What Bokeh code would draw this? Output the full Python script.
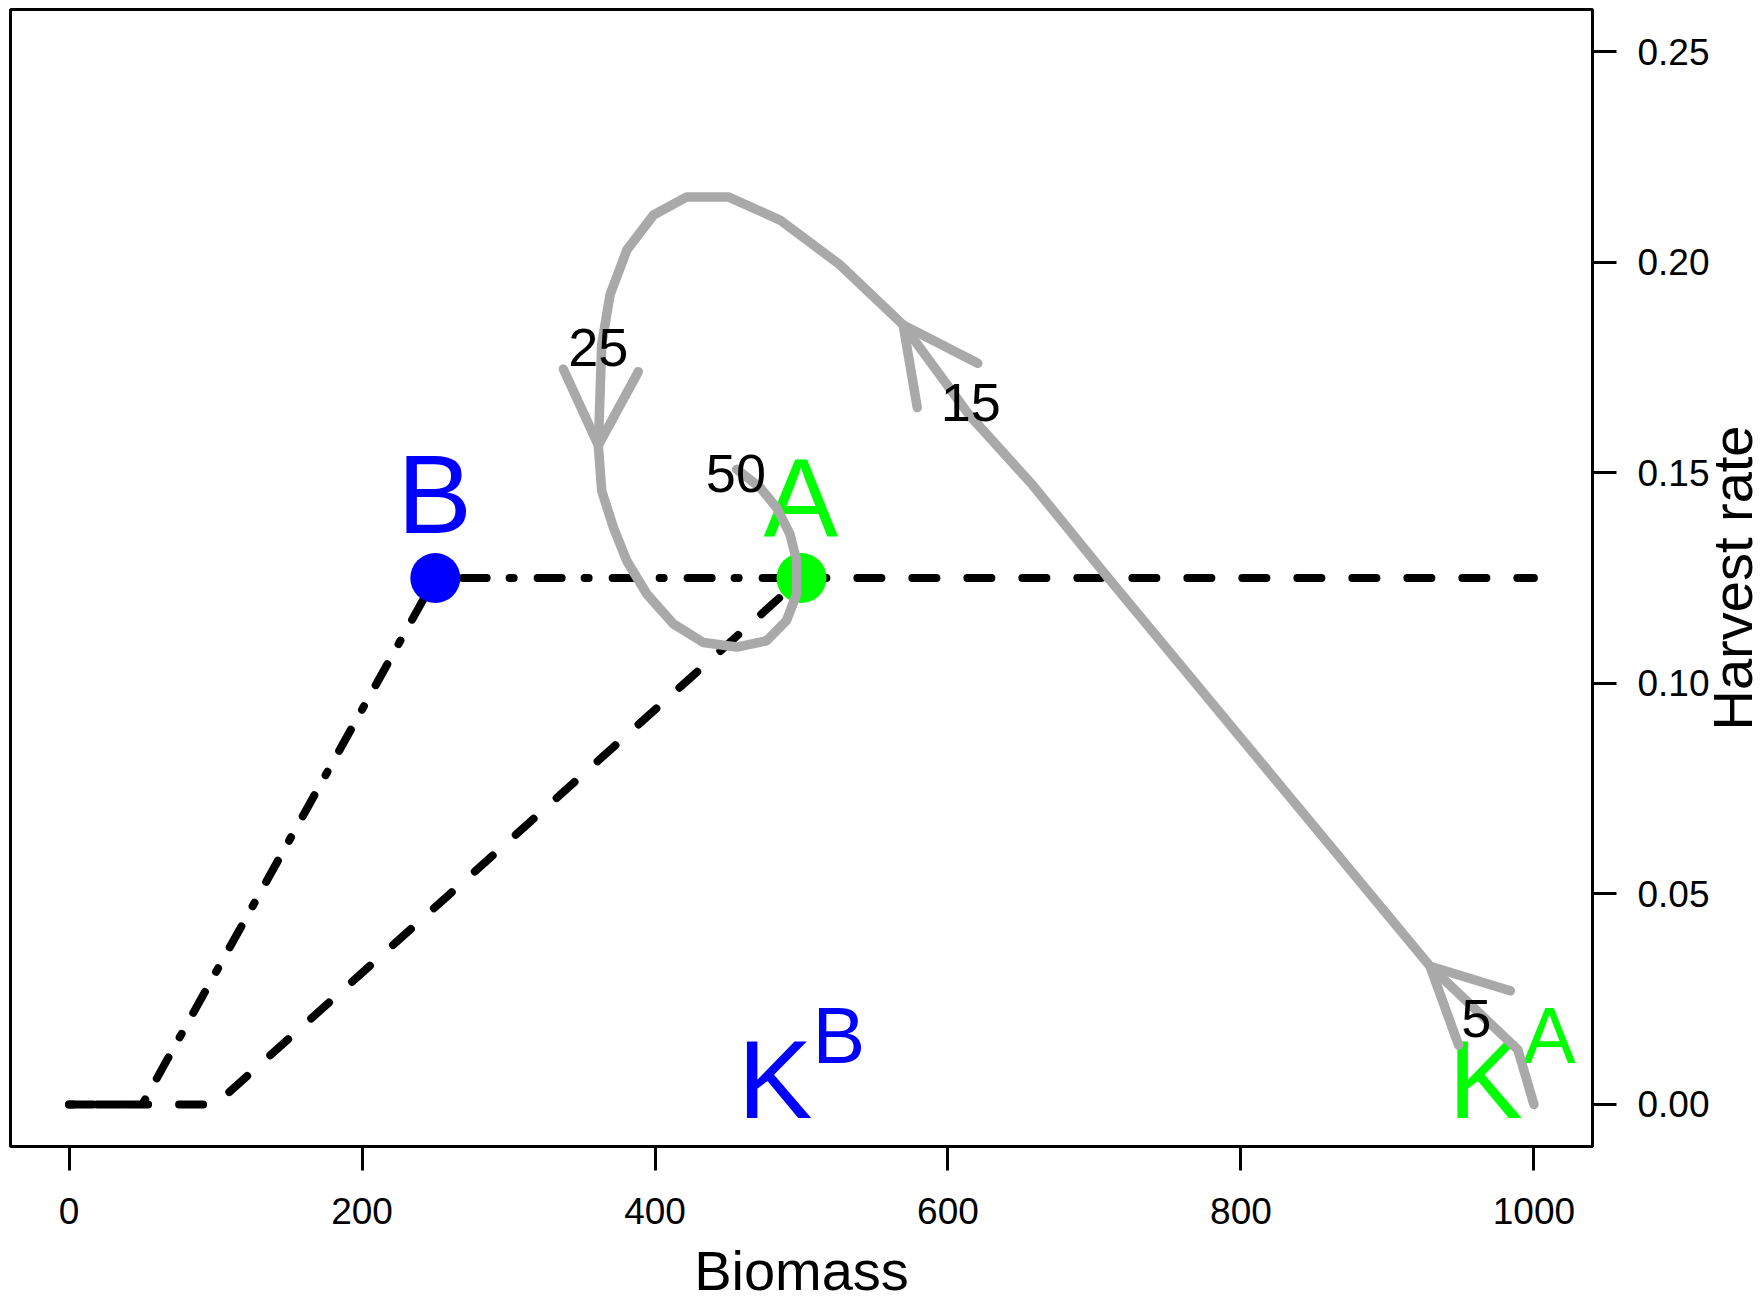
import math
from bokeh.plotting import figure
from bokeh.models import (Range1d, FixedTicker, ColumnDataSource, Arrow, OpenHead,
                          LinearAxis, PrintfTickFormatter, Label)
from bokeh.core.properties import value
from bokeh.embed import file_html
from bokeh.resources import INLINE

# ---------------- data ----------------
x_ticks = [0, 200, 400, 600, 800, 1000]
y_ticks = [0.00, 0.05, 0.10, 0.15, 0.20, 0.25]

# harvest control rules
ruleA_biomass = [0, 100, 500, 1000]
ruleA_harvest = [0.0, 0.0, 0.125, 0.125]
ruleB_biomass = [0, 50, 250, 500]
ruleB_harvest = [0.0, 0.0, 0.125, 0.125]

# reference points B and A
ref_x = [250, 500]
ref_y = [0.125, 0.125]
ref_colors = ["#0000FF", "#00FF00"]

# trajectory (biomass, harvest rate)
traj_biomass = [1000, 989, 929.1, 709, 657.7, 614.5, 569.4, 526.2, 485.3, 450, 421.7,
                399, 380.8, 369.3, 363.6, 361.3, 363.6, 371.6, 380.7, 394.4, 412.5,
                433, 455.8, 476.2, 489.8, 496.7, 496.7, 492.1, 483, 471.7, 455.8]
traj_harvest = [0.000, 0.013, 0.0328, 0.1252, 0.1471, 0.1637, 0.1851, 0.1994, 0.2100,
                0.2155, 0.2155, 0.2112, 0.2029, 0.1923, 0.1804, 0.1565, 0.1457, 0.1370,
                0.1291, 0.1212, 0.1141, 0.1097, 0.1086, 0.1101, 0.1149, 0.1212, 0.1291,
                0.1354, 0.1417, 0.1465, 0.1508]

# direction arrows on the trajectory
arrow_from_x = [989, 614.5, 363.6]
arrow_from_y = [0.013, 0.1637, 0.1804]
arrow_to_x = [929.1, 569.4, 361.3]
arrow_to_y = [0.0328, 0.1851, 0.1565]

# year labels
year_text = ["5", "15", "25", "50"]
year_x = [960.6, 615.5, 361.3, 455.2]
year_y = [0.0160, 0.1622, 0.1752, 0.1453]

# point labels
pt_text = ["B", "A"]
pt_x = [249.5, 499.5]
pt_y = [0.1357, 0.1350]

# carrying capacity labels K^B, K^A
k_sup = ["B", "A"]
k_x = [500, 985]
k_y = [-0.0034, -0.0034]

GRAY = "#A9A9A9"
FONT = "Liberation Sans"
BASE_SHIFT = 0.3465  # em shift so that the text anchor sits on the baseline

# ---------------- figure ----------------
p = figure(frame_width=1582, frame_height=1137, output_backend="svg",
           toolbar_location=None, title=None,
           x_range=Range1d(-40, 1040), y_range=Range1d(-0.01, 0.26),
           x_axis_location=None, y_axis_location=None,
           min_border_left=10, min_border_top=9, min_border_right=172,
           min_border_bottom=158)
p.xgrid.grid_line_color = None
p.ygrid.grid_line_color = None
p.background_fill_color = "white"
p.border_fill_color = "white"
p.outline_line_color = "black"
p.outline_line_width = 3

def style_axis(ax, standoff):
    ax.axis_line_color = None
    ax.major_tick_line_color = "black"
    ax.major_tick_line_width = 3
    ax.major_tick_out = 24
    ax.major_tick_in = 0
    ax.minor_tick_line_color = None
    ax.major_label_text_font = FONT
    ax.major_label_text_font_size = "37px"
    ax.major_label_text_color = "black"
    ax.major_label_standoff = standoff
    ax.axis_label_text_font = FONT
    ax.axis_label_text_font_size = "56px"
    ax.axis_label_text_font_style = "normal"
    ax.axis_label_text_color = "black"

xaxis = LinearAxis(ticker=FixedTicker(ticks=x_ticks), axis_label="Biomass")
style_axis(xaxis, 27)
xaxis.axis_label_standoff = 12
p.add_layout(xaxis, "below")

yaxis = LinearAxis(ticker=FixedTicker(ticks=y_ticks),
                   formatter=PrintfTickFormatter(format="%.2f"))
style_axis(yaxis, 21)
p.add_layout(yaxis, "right")

# y axis title, rotated to read bottom-to-top, placed in the right panel
p.add_layout(Label(x=1040, y=0.125, text="Harvest rate", text_font=FONT,
                   text_font_size="56px", text_color="black",
                   text_align="center", text_baseline="middle",
                   angle=math.pi / 2, x_offset=140), "right")

# rules
p.line(ruleA_biomass, ruleA_harvest, line_color="black", line_width=8,
       line_dash="24 31", line_cap="round", line_join="round")
p.line(ruleB_biomass, ruleB_harvest, line_color="black", line_width=8,
       line_dash="4 24 24 23", line_cap="round", line_join="round")

# reference points
p.scatter(ref_x, ref_y, size=50, fill_color=ref_colors, line_color=None)

# point letters
p.text(x=pt_x, y=pt_y, text=pt_text, text_color=ref_colors,
       text_font=value(FONT), text_font_size="112px",
       text_align="center", text_baseline="alphabetic",
       y_offset=-BASE_SHIFT * 112)

# K labels
p.text(x=k_x, y=k_y, text=["K", "K"], text_color=ref_colors,
       text_font=value(FONT), text_font_size="112px",
       text_align="right", text_baseline="alphabetic", x_offset=11,
       y_offset=-BASE_SHIFT * 112)
p.text(x=k_x, y=k_y, text=k_sup, text_color=ref_colors,
       text_font=value(FONT), text_font_size="79px",
       text_align="left", text_baseline="alphabetic", x_offset=11,
       y_offset=-56 - BASE_SHIFT * 79)

# trajectory
p.line(traj_biomass, traj_harvest, line_color=GRAY, line_width=9.5,
       line_cap="round", line_join="round")

arrow_src = ColumnDataSource(dict(x0=arrow_from_x, y0=arrow_from_y,
                                  x1=arrow_to_x, y1=arrow_to_y))
p.add_layout(Arrow(end=OpenHead(size=75, line_color=GRAY, line_width=9.5,
                                line_cap="round", line_join="round"),
                   x_start="x0", y_start="y0", x_end="x1", y_end="y1",
                   source=arrow_src, line_alpha=0))

# year labels
p.text(x=year_x, y=year_y, text=year_text, text_color="black",
       text_font=value(FONT), text_font_size="54px",
       text_align="center", text_baseline="alphabetic",
       y_offset=-BASE_SHIFT * 54)

open("out.html", "w").write(file_html(p, INLINE))
